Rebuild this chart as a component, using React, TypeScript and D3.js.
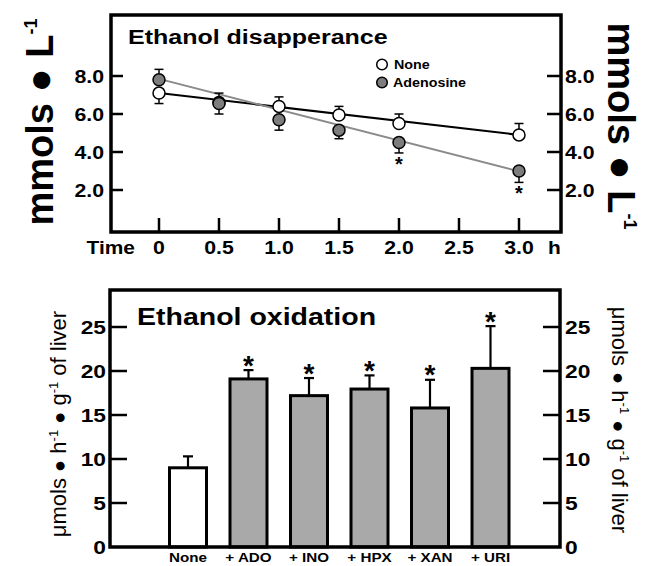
import React from "react";
import * as d3 from "d3";

// ---- Top panel data (Ethanol disappearance) ----
const times = [0, 0.5, 1.0, 1.5, 2.0, 3.0];
const noneVals = [7.1, 6.6, 6.4, 5.95, 5.5, 4.9];
const noneErr = [0.55, 0.5, 0.5, 0.45, 0.5, 0.6];
const noneErrDir = [-1, 1, 1, 1, 1, 1];
const adenVals = [7.8, 6.55, 5.7, 5.15, 4.5, 3.0];
const adenErr = [0.55, 0.55, 0.55, 0.45, 0.55, 0.6];
const adenErrDir = [1, -1, -1, -1, -1, -1];
const adenStar = [false, false, false, false, true, true];
const fitTimes = [0, 3.0];
const noneFit = [7.1, 4.9];
const adenFit = [7.85, 2.98];
const topYTicks = [2, 4, 6, 8];
const topYLabels = ["2.0", "4.0", "6.0", "8.0"];
const topXTicks = [0, 0.5, 1.0, 1.5, 2.0, 2.5, 3.0];
const topXLabels = ["0", "0.5", "1.0", "1.5", "2.0", "2.5", "3.0"];

// ---- Bottom panel data (Ethanol oxidation) ----
const categories = ["None", "+ ADO", "+ INO", "+ HPX", "+ XAN", "+ URI"];
const barVals = [9.0, 19.1, 17.2, 17.95, 15.8, 20.3];
const barErr = [1.3, 1.0, 2.0, 1.55, 3.2, 4.8];
const barStar = [false, true, true, true, true, true];
const botYTicks = [0, 5, 10, 15, 20, 25];

const FONT = "'Liberation Sans', Arial, Helvetica, sans-serif";

const HT = ({ x, y, s = 1.15, anchor = "start", size, weight = "bold", children, fill = "#000" }: any) => (
  <text
    transform={`translate(${x},${y}) scale(${s},1)`}
    textAnchor={anchor}
    fontSize={size}
    fontWeight={weight}
    fontFamily={FONT}
    fill={fill}
  >
    {children}
  </text>
);

export default function App() {
  // top scales
  const xT = d3.scaleLinear().domain([0, 3]).range([159, 519]);
  const yT = d3.scaleLinear().domain([0, 8]).range([228, 76]);
  const tf = { x0: 111, x1: 561, y0: 15, y1: 232 };

  // bottom scales
  const xB = d3.scalePoint<string>().domain(categories).range([188, 490.5]);
  const yB = d3.scaleLinear().domain([0, 25]).range([547, 327]);
  const bf = { x0: 110, x1: 560, y0: 290, y1: 547 };
  const barW = 37;

  const line = d3
    .line<[number, number]>()
    .x((d) => xT(d[0]))
    .y((d) => yT(d[1]));

  const greyMarker = "#7d7d7d";
  const greyLine = "#8a8a8a";
  const barFill = "#a9a9a9";

  const errBars = (vals: number[], errs: number[], dirs: number[], key: string) =>
    times.map((t, i) => {
      const yv = yT(vals[i]);
      const ye = yT(vals[i] + dirs[i] * errs[i]);
      const x = xT(t);
      return (
        <g key={key + i} stroke="#000" strokeWidth={1.5}>
          <line x1={x} x2={x} y1={yv} y2={ye} />
          <line x1={x - 4.5} x2={x + 4.5} y1={ye} y2={ye} />
        </g>
      );
    });

  const bottomTitle = (
    <>
      μmols <tspan fontSize={20}>●</tspan> h<tspan dy={-8} fontSize={13}>-1</tspan>
      <tspan dy={8}> </tspan>
      <tspan fontSize={20}>●</tspan> g<tspan dy={-8} fontSize={13}>-1</tspan>
      <tspan dy={8}> of liver</tspan>
    </>
  );

  return (
    <svg
      width={656}
      height={566}
      style={{ position: "absolute", left: 0, top: 0, background: "#fff" }}
    >
      <rect x={0} y={0} width={656} height={566} fill="#fff" />

      {/* ================= TOP PANEL ================= */}
      <path
        d={line(fitTimes.map((t, i) => [t, noneFit[i]]) as [number, number][]) || ""}
        stroke="#000"
        strokeWidth={2}
        fill="none"
      />
      <path
        d={line(fitTimes.map((t, i) => [t, adenFit[i]]) as [number, number][]) || ""}
        stroke={greyLine}
        strokeWidth={2}
        fill="none"
      />
      {errBars(noneVals, noneErr, noneErrDir, "ne")}
      {errBars(adenVals, adenErr, adenErrDir, "ae")}
      {times.map((t, i) => (
        <circle key={"nc" + i} cx={xT(t)} cy={yT(noneVals[i])} r={6} fill="#fff" stroke="#000" strokeWidth={1.5} />
      ))}
      {times.map((t, i) => (
        <circle key={"ac" + i} cx={xT(t)} cy={yT(adenVals[i])} r={6} fill={greyMarker} stroke="#000" strokeWidth={1.5} />
      ))}
      {times.map((t, i) =>
        adenStar[i] ? (
          <text
            key={"as" + i}
            x={xT(t)}
            y={yT(adenVals[i] - adenErr[i]) + 18}
            textAnchor="middle"
            fontSize={20}
            fontWeight="bold"
            fontFamily={FONT}
          >
            *
          </text>
        ) : null
      )}

      <rect x={tf.x0} y={tf.y0} width={tf.x1 - tf.x0} height={tf.y1 - tf.y0} fill="none" stroke="#000" strokeWidth={3.5} />
      {topYTicks.map((v, i) => (
        <g key={"ty" + i}>
          <line x1={tf.x0} x2={tf.x0 + 12} y1={yT(v)} y2={yT(v)} stroke="#000" strokeWidth={2.5} />
          <line x1={tf.x1 - 14} x2={tf.x1} y1={yT(v)} y2={yT(v)} stroke="#000" strokeWidth={2.5} />
          <HT x={104} y={yT(v) + 6.5} anchor="end" size={19} s={1.12}>
            {topYLabels[i]}
          </HT>
          <HT x={565} y={yT(v) + 6.5} anchor="start" size={19} s={1.12}>
            {topYLabels[i]}
          </HT>
        </g>
      ))}
      {topXTicks.map((t, i) => (
        <g key={"tx" + i}>
          <line x1={xT(t)} x2={xT(t)} y1={tf.y1} y2={tf.y1 - 14} stroke="#000" strokeWidth={2.5} />
          <HT x={xT(t)} y={254} anchor="middle" size={19} s={1.12}>
            {topXLabels[i]}
          </HT>
        </g>
      ))}
      <HT x={135} y={254} anchor="end" size={19} s={1.1}>
        Time
      </HT>
      <HT x={548} y={254} anchor="start" size={19} s={1.1}>
        h
      </HT>
      <HT x={128} y={43.5} size={20} s={1.25}>
        Ethanol disapperance
      </HT>
      <circle cx={382} cy={64.5} r={5.3} fill="#fff" stroke="#000" strokeWidth={1.5} />
      <circle cx={382} cy={82.5} r={5.3} fill={greyMarker} stroke="#000" strokeWidth={1.5} />
      <HT x={394} y={69} size={13} s={1.1}>
        None
      </HT>
      <HT x={393} y={87} size={13} s={1.1}>
        Adenosine
      </HT>
      <text
        transform="translate(53,122) rotate(-90)"
        textAnchor="middle"
        fontSize={38}
        fontWeight="bold"
        fontFamily={FONT}
      >
        mmols <tspan fontSize={40}>●</tspan> L<tspan dy={-16} fontSize={18}>-1</tspan>
      </text>
      <text
        transform="translate(608,126) rotate(90)"
        textAnchor="middle"
        fontSize={38}
        fontWeight="bold"
        fontFamily={FONT}
      >
        mmols <tspan fontSize={40}>●</tspan> L<tspan dy={-16} fontSize={18}>-1</tspan>
      </text>

      {/* ================= BOTTOM PANEL ================= */}
      {categories.map((c, i) => {
        const cx = xB(c) as number;
        const yTop = yB(barVals[i]);
        const yErr = yB(barVals[i] + barErr[i]);
        return (
          <g key={"b" + i}>
            <line x1={cx} x2={cx} y1={yTop} y2={yErr} stroke="#000" strokeWidth={2.2} />
            <line x1={cx - 5} x2={cx + 5} y1={yErr} y2={yErr} stroke="#000" strokeWidth={2.2} />
            <rect
              x={cx - barW / 2}
              y={yTop}
              width={barW}
              height={yB(0) - yTop}
              fill={i === 0 ? "#fff" : barFill}
              stroke="#000"
              strokeWidth={3}
            />
            {barStar[i] ? (
              <text x={cx} y={yErr + 4.5} textAnchor="middle" fontSize={28} fontWeight="bold" fontFamily={FONT}>
                *
              </text>
            ) : null}
            <HT x={cx} y={562} anchor="middle" size={13} s={1.17}>
              {c}
            </HT>
          </g>
        );
      })}
      <rect x={bf.x0} y={bf.y0} width={bf.x1 - bf.x0} height={bf.y1 - bf.y0} fill="none" stroke="#000" strokeWidth={3.5} />
      {botYTicks.map((v, i) => (
        <g key={"by" + i}>
          {v > 0 ? (
            <>
              <line x1={bf.x0} x2={bf.x0 + 17} y1={yB(v)} y2={yB(v)} stroke="#000" strokeWidth={2.5} />
              <line x1={bf.x1 - 17} x2={bf.x1} y1={yB(v)} y2={yB(v)} stroke="#000" strokeWidth={2.5} />
            </>
          ) : null}
          <HT x={106} y={yB(v) + 7} anchor="end" size={19} s={1.2}>
            {String(v)}
          </HT>
          <HT x={565} y={yB(v) + 7} anchor="start" size={19} s={1.2}>
            {String(v)}
          </HT>
        </g>
      ))}
      <HT x={137} y={325} size={23} s={1.24}>
        Ethanol oxidation
      </HT>
      <text
        transform="translate(66,424) rotate(-90)"
        textAnchor="middle"
        fontSize={22}
        fontFamily={FONT}
      >
        {bottomTitle}
      </text>
      <text
        transform="translate(612,420) rotate(90)"
        textAnchor="middle"
        fontSize={22}
        fontFamily={FONT}
      >
        {bottomTitle}
      </text>
    </svg>
  );
}
